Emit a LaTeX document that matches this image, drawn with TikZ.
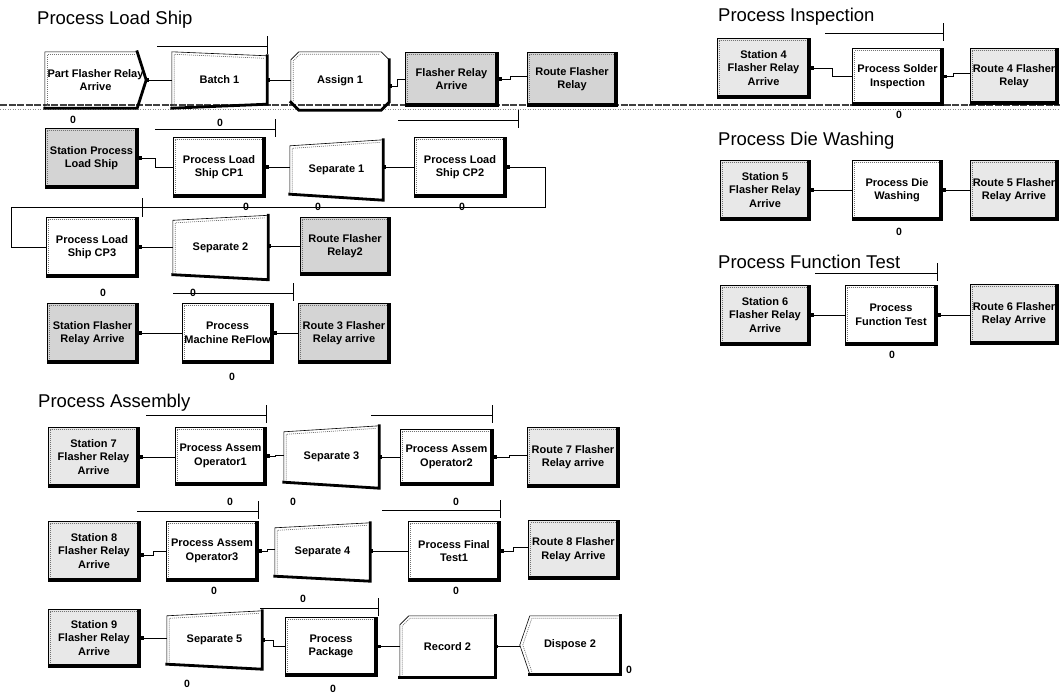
\documentclass[tikz,border=0pt]{standalone}
\usepackage{fontspec}
\setmainfont{Liberation Sans}
\usetikzlibrary{arrows.meta,calc}

\newcommand\modfont{\fontsize{11}{13.5}\selectfont\bfseries}
\newcommand\cntfont{\fontsize{10.5}{10.5}\selectfont\bfseries}
\newcommand\ttlfont{\fontsize{18.5}{20}\selectfont}

% outline of a slanted module (Batch / Separate): node, left inset, right inset
\newcommand\slantmod[3]{%
  \draw[bline] ([yshift=-#2]#1.north west) -- ([yshift=-#3]#1.north east) -- ([yshift=#3]#1.south east) -- ([yshift=#2]#1.south west) -- cycle;
  \draw[innerdots] ([shift={(2.5pt,#2+2.5pt)}]#1.south west) -- ([shift={(2.5pt,-#2-2.5pt)}]#1.north west) -- ([shift={(-2.5pt,-#3-2.5pt)}]#1.north east);
  \draw[modshadow] ([yshift=-#3]#1.north east) -- ([yshift=#3]#1.south east) -- ([yshift=#2]#1.south west);}

\tikzset{
  bline/.style={line width=0.6pt},
  modshadow/.style={line width=2.8pt, line cap=rect},
  innerdots/.style={black!55, line width=0.7pt, dash pattern=on 1pt off 1pt},
  thick3d/.style={path picture={
      \draw[innerdots] ([shift={(2.5pt,2.5pt)}]path picture bounding box.south west) -- ([shift={(2.5pt,-2.5pt)}]path picture bounding box.north west) -- ([shift={(-2.5pt,-2.5pt)}]path picture bounding box.north east);
      \draw[line width=5.6pt] (path picture bounding box.north east) -- (path picture bounding box.south east) -- (path picture bounding box.south west);}},
  mod/.style={rectangle, inner sep=1pt, align=center, font=\modfont, minimum width=92pt, minimum height=60pt},
  bare/.style={mod},
  proc/.style={mod, draw, bline, fill=white, thick3d},
  stn/.style={proc, fill=black!17},
  stnl/.style={proc, fill=black!9},
  conn/.style={line width=1pt, {Square[length=3.2pt,width=3.2pt]}-},
  queue/.style={line width=1pt},
  cnt/.style={font=\cntfont, inner sep=0pt},
  ttl/.style={font=\ttlfont, anchor=base west, inner sep=0pt},
}

\begin{document}
\begin{tikzpicture}[x=1pt, y=-1pt]
  \useasboundingbox (0,0) rectangle (1060,696);

  % page break line
  \draw[black!75, line width=1.1pt, dash pattern=on 7pt off 1.5pt] (0,105) -- (1060,105);
  \draw[black!45, line width=0.6pt, dash pattern=on 1pt off 1.5pt] (0,109) -- (1060,109);

  % titles
  \node[ttl] (t1) at (37,24) {Process Load Ship};
  \node[ttl] (t2) at (38,407) {Process Assembly};
  \node[ttl] (t3) at (718,21) {Process Inspection};
  \node[ttl] (t4) at (718,145) {Process Die Washing};
  \node[ttl] (t5) at (718,268) {Process Function Test};

  % Process Load Ship
  \node[bare, minimum width=101pt, minimum height=56pt] (a1) at (95.5,80) {Part Flasher Relay\\Arrive};
  \node[bare, minimum width=95pt, minimum height=56pt] (b1) at (219.5,80) {Batch 1};
  \node[bare, minimum width=98pt, minimum height=58pt] (as1) at (340,81) {Assign 1};
  \node[stn, minimum width=93pt, minimum height=54pt] (fra) at (451.5,79) {Flasher Relay\\Arrive};
  \node[stn, minimum width=90pt, minimum height=54pt] (rfr) at (572,79) {Route Flasher\\Relay};

  \node[stn, minimum width=93pt] (spls) at (91.5,158) {Station Process\\Load Ship};
  \node[proc] (cp1) at (219,167) {Process Load\\Ship CP1};
  \node[bare, minimum width=93pt] (sep1) at (336.5,170) {Separate 1};
  \node[proc] (cp2) at (460,167) {Process Load\\Ship CP2};

  \node[proc] (cp3) at (92,247) {Process Load\\Ship CP3};
  \node[bare, minimum width=95pt, minimum height=64pt] (sep2) at (220.5,247.5) {Separate 2};
  \node[stn, minimum width=90pt, minimum height=58pt] (rfr2) at (345,246) {Route Flasher\\Relay2};

  \node[stn, minimum width=91pt] (sfra) at (92.5,333) {Station Flasher\\Relay Arrive};
  \node[proc, minimum width=91pt] (pmr) at (227.5,333) {Process\\Machine ReFlow};
  \node[stn] (r3) at (344,333) {Route 3 Flasher\\Relay arrive};

  % Process Assembly
  \node[stnl, minimum width=91pt] (s7) at (93.5,457) {Station 7\\Flasher Relay\\Arrive};
  \node[proc, minimum width=91pt, minimum height=58pt] (op1) at (220.5,456) {Process Assem\\Operator1};
  \node[bare, minimum width=95pt, minimum height=62pt] (sep3) at (331.5,457) {Separate 3};
  \node[proc, minimum width=93pt, minimum height=56pt] (op2) at (446.5,457) {Process Assem\\Operator2};
  \node[stnl] (r7) at (573,457) {Route 7 Flasher\\Relay arrive};

  \node[stnl] (s8) at (94,551) {Station 8\\Flasher Relay\\Arrive};
  \node[proc] (op3) at (212,551) {Process Assem\\Operator3};
  \node[bare, minimum width=95pt, minimum height=58pt] (sep4) at (322.5,552) {Separate 4};
  \node[proc] (pft) at (454,551) {Process Final\\Test1};
  \node[stnl, minimum width=91pt, minimum height=59pt] (r8) at (573.5,549.5) {Route 8 Flasher\\Relay Arrive};

  \node[stnl, minimum height=58pt] (s9) at (94,638) {Station 9\\Flasher Relay\\Arrive};
  \node[bare, minimum width=95pt, minimum height=58pt] (sep5) at (214.5,640) {Separate 5};
  \node[proc, minimum height=59pt] (pkg) at (331,646.5) {Process\\Package};
  \node[bare, minimum width=95pt, minimum height=61pt] (rec2) at (447.5,646.5) {Record 2};
  \node[bare, minimum width=100pt, minimum height=58pt] (dis2) at (570,645) {Dispose 2};

  % Inspection, Die Washing, Function Test
  \node[stnl, minimum width=93pt] (s4) at (763.5,68) {Station 4\\Flasher Relay\\Arrive};
  \node[proc, minimum width=91pt, minimum height=57pt] (pso) at (897.5,76.5) {Process Solder\\Inspection};
  \node[stnl, minimum width=88pt, minimum height=56pt] (r4) at (1014,76) {Route 4 Flasher\\Relay};

  \node[stnl, minimum width=90pt] (s5) at (765,190) {Station 5\\Flasher Relay\\Arrive};
  \node[proc, minimum width=90pt] (pdw) at (897,190) {Process Die\\Washing};
  \node[stnl, minimum width=88pt] (r5) at (1014,190) {Route 5 Flasher\\Relay Arrive};

  \node[stnl, minimum width=90pt] (s6) at (765,315) {Station 6\\Flasher Relay\\Arrive};
  \node[proc] (pfn) at (891,315) {Process\\Function Test};
  \node[stnl, minimum width=88pt] (r6) at (1014,314) {Route 6 Flasher\\Relay Arrive};

  % module outlines that are not plain boxes
  \draw[bline] (a1.north west) -- ([xshift=-9pt]a1.north east) -- (a1.east) -- ([xshift=-9pt]a1.south east) -- (a1.south west) -- cycle;
  \draw[innerdots] ([shift={(2.5pt,2.5pt)}]a1.south west) -- ([shift={(2.5pt,-2.5pt)}]a1.north west) -- ([shift={(-12pt,-2.5pt)}]a1.north east);
  \draw[modshadow] ([xshift=-9pt]a1.north east) -- (a1.east) -- ([xshift=-9pt]a1.south east) -- (a1.south west);
  \slantmod{b1}{0pt}{4pt}
  \draw[bline] ([xshift=8pt]as1.north west) -- ([xshift=-8pt]as1.north east) -- ([yshift=-8pt]as1.north east) -- ([yshift=8pt]as1.south east) -- ([xshift=-8pt]as1.south east) -- ([xshift=8pt]as1.south west) -- ([yshift=8pt]as1.south west) -- ([yshift=-8pt]as1.north west) -- cycle;
  \draw[innerdots] ([shift={(2.5pt,9pt)}]as1.south west) -- ([shift={(2.5pt,-9pt)}]as1.north west) -- ([shift={(9pt,-2.5pt)}]as1.north west) -- ([shift={(-9pt,-2.5pt)}]as1.north east);
  \draw[modshadow] ([yshift=-8pt]as1.north east) -- ([yshift=8pt]as1.south east) -- ([xshift=-8pt]as1.south east) -- ([xshift=8pt]as1.south west) -- ([yshift=8pt]as1.south west);
  \slantmod{sep1}{6pt}{0pt}
  \slantmod{sep2}{5pt}{0pt}
  \slantmod{sep3}{6pt}{0pt}
  \slantmod{sep4}{5pt}{0pt}
  \slantmod{sep5}{5pt}{0pt}
  \draw[bline] ([xshift=9pt]rec2.north west) -- (rec2.north east) -- (rec2.south east) -- (rec2.south west) -- ([yshift=-9pt]rec2.north west) -- cycle;
  \draw[innerdots] ([shift={(2.5pt,2.5pt)}]rec2.south west) -- ([shift={(2.5pt,-10pt)}]rec2.north west) -- ([shift={(10pt,-2.5pt)}]rec2.north west) -- ([shift={(-2.5pt,-2.5pt)}]rec2.north east);
  \draw[modshadow] (rec2.north east) -- (rec2.south east) -- (rec2.south west);
  \draw[bline] ([xshift=10pt]dis2.north west) -- (dis2.north east) -- (dis2.south east) -- ([xshift=10pt]dis2.south west) -- (dis2.west) -- cycle;
  \draw[innerdots] ([shift={(12pt,2.5pt)}]dis2.south west) -- ([xshift=3pt]dis2.west) -- ([shift={(12pt,-2.5pt)}]dis2.north west) -- ([shift={(-2.5pt,-2.5pt)}]dis2.north east);
  \draw[modshadow] (dis2.north east) -- (dis2.south east) -- ([xshift=10pt]dis2.south west);

  % connectors
  \draw[conn] (a1.east) -- (b1.west);
  \draw[conn] (b1.east) -- (b1.east -| as1.west);
  \draw[conn] ([yshift=-5pt]as1.east) -- ++(8,0) |- (fra.west);
  \draw[conn] (fra.east) -- ++(12,0) |- ([yshift=3pt]rfr.west);
  \draw[conn] (spls.east) -- ++(17,0) |- (cp1.west);
  \draw[conn] (cp1.east) -- (cp1.east -| sep1.west);
  \draw[conn] (sep1.east |- cp2.west) -- (cp2.west);
  \draw[conn] (cp2.east) -- ++(39,0) |- ($(cp3.west)+(-34,-40)$) |- (cp3.west);
  \draw[conn] (cp3.east) -- (cp3.east -| sep2.west);
  \draw[conn] (sep2.east |- rfr2.west) -- (rfr2.west);
  \draw[conn] (sfra.east) -- (pmr.west);
  \draw[conn] (pmr.east) -- (r3.west);

  \draw[conn] (s7.east) -- (s7.east -| op1.west);
  \draw[conn] (op1.east) -- ++(9,0) |- ([yshift=2pt]sep3.west);
  \draw[conn] (sep3.east) -- (op2.west);
  \draw[conn] (op2.east) -- ++(16,0) |- ([yshift=2pt]r7.west);
  \draw[conn] ([yshift=-4pt]s8.east) -- ++(13,0) |- (op3.west);
  \draw[conn] (op3.east) -- ++(9,0) |- ([yshift=3pt]sep4.west);
  \draw[conn] (sep4.east |- pft.west) -- (pft.west);
  \draw[conn] (pft.east) -- ++(13,0) |- ([yshift=2pt]r8.west);
  \draw[conn] (s9.east) -- (s9.east -| sep5.west);
  \draw[conn] (sep5.east) -- ++(11,0) |- (pkg.west);
  \draw[conn] (pkg.east) -- (pkg.east -| rec2.west);
  \draw[conn] (rec2.east) -- (rec2.east -| dis2.west);

  \draw[conn] (s4.east) -- ++(22,0) |- (pso.west);
  \draw[conn] (pso.east) -- ++(10,0) |- ([yshift=3pt]r4.west);
  \draw[conn] (s5.east) -- (pdw.west);
  \draw[conn] (pdw.east) -- (r5.west);
  \draw[conn] (s6.east) -- (pfn.west);
  \draw[conn] (pfn.east) -- (pfn.east -| r6.west);

  % queues
  \foreach \xa/\xb/\y in {157/267/46, 155/275/129, 398/518/120, 173/293/293,
      146/266/415, 371/492/415, 137/258/511, 382/500/510, 260/378/608,
      825/943/33, 815/937/273}
    \draw[queue] (\xa,\y) -- (\xb,\y) (\xb,\y-10) -- (\xb,\y+8);
  \draw[queue] (142,198) -- (142,217);

  % counters
  \foreach \x/\y [count=\i] in {73/120, 220/123, 246/207, 318/207, 462/207,
      103/293, 193/293, 232/377, 230/502, 293/502, 456/502, 214/591,
      303/599, 456/591, 187/684, 333/689, 629/670, 899/115, 899/232, 892/355}
    \node[cnt] (c\i) at (\x,\y) {0};
\end{tikzpicture}
\end{document}
